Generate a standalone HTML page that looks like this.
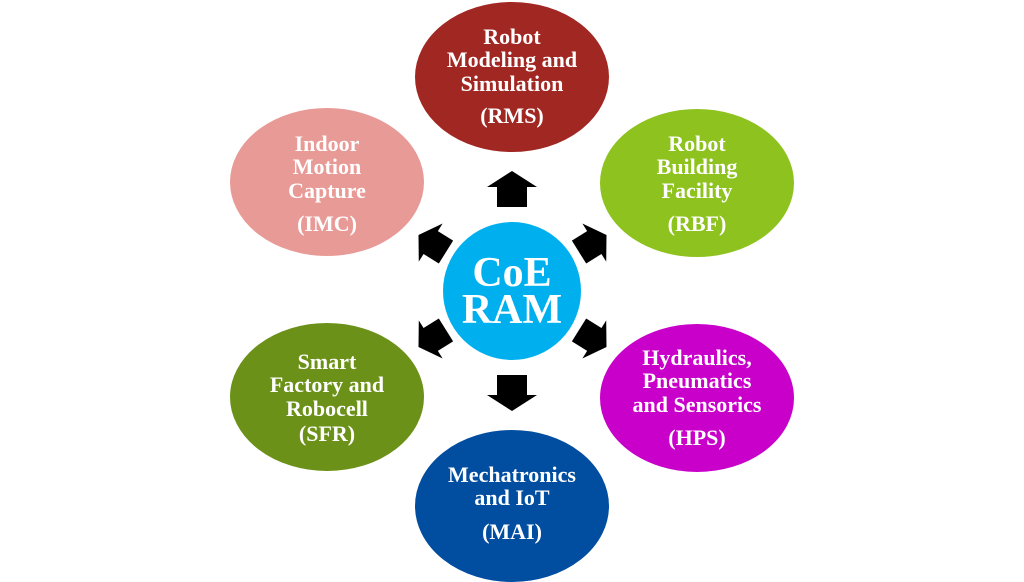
<!DOCTYPE html>
<html><head><style>
html,body{margin:0;padding:0;background:#fff;}
svg{display:block}
text{font-family:"Liberation Serif",serif;font-weight:bold;fill:#fff;text-anchor:middle}
</style></head><body>
<svg width="1024" height="582" viewBox="0 0 1024 582">
<g stroke="#fff" stroke-width="2">
<ellipse cx="512" cy="77" rx="98" ry="76" fill="#A12722"/>
<ellipse cx="327" cy="182" rx="98" ry="75" fill="#E89A96"/>
<ellipse cx="697" cy="183" rx="98" ry="75" fill="#8DC21F"/>
<ellipse cx="327" cy="397" rx="98" ry="75" fill="#6B9118"/>
<ellipse cx="697" cy="398" rx="98" ry="75" fill="#C900C9"/>
<ellipse cx="512" cy="506" rx="98" ry="77" fill="#014DA0"/>
<circle cx="512" cy="291" r="70" fill="#00B0EE"/>
</g>
<defs><path id="ar" d="M0,-19 L25,-3 L15,-3 L15,17 L-15,17 L-15,-3 L-25,-3 Z" fill="#000"/></defs>
<use href="#ar" transform="translate(512,190)"/>
<use href="#ar" transform="translate(512,392) rotate(180)"/>
<use href="#ar" transform="translate(433,244) rotate(-58) scale(0.9)"/>
<use href="#ar" transform="translate(592,244) rotate(58) scale(0.9)"/>
<use href="#ar" transform="translate(433,338) rotate(-122) scale(0.9)"/>
<use href="#ar" transform="translate(592,338) rotate(122) scale(0.9)"/>
<g font-size="22">
<text x="512" y="44">Robot</text>
<text x="512" y="67">Modeling and</text>
<text x="512" y="91">Simulation</text>
<text x="512" y="123">(RMS)</text>
<text x="327" y="151">Indoor</text>
<text x="327" y="174">Motion</text>
<text x="327" y="198">Capture</text>
<text x="327" y="231">(IMC)</text>
<text x="697" y="151">Robot</text>
<text x="697" y="174">Building</text>
<text x="697" y="198">Facility</text>
<text x="697" y="231">(RBF)</text>
<text x="327" y="369">Smart</text>
<text x="327" y="392">Factory and</text>
<text x="327" y="416">Robocell</text>
<text x="327" y="441">(SFR)</text>
<text x="697" y="365">Hydraulics,</text>
<text x="697" y="388">Pneumatics</text>
<text x="697" y="412">and Sensorics</text>
<text x="697" y="445">(HPS)</text>
<text x="512" y="482">Mechatronics</text>
<text x="512" y="505">and IoT</text>
<text x="512" y="539">(MAI)</text>
</g>
<g font-size="42">
<text x="512" y="286">CoE</text>
<text x="512" y="323">RAM</text>
</g>
</svg>
</body></html>
